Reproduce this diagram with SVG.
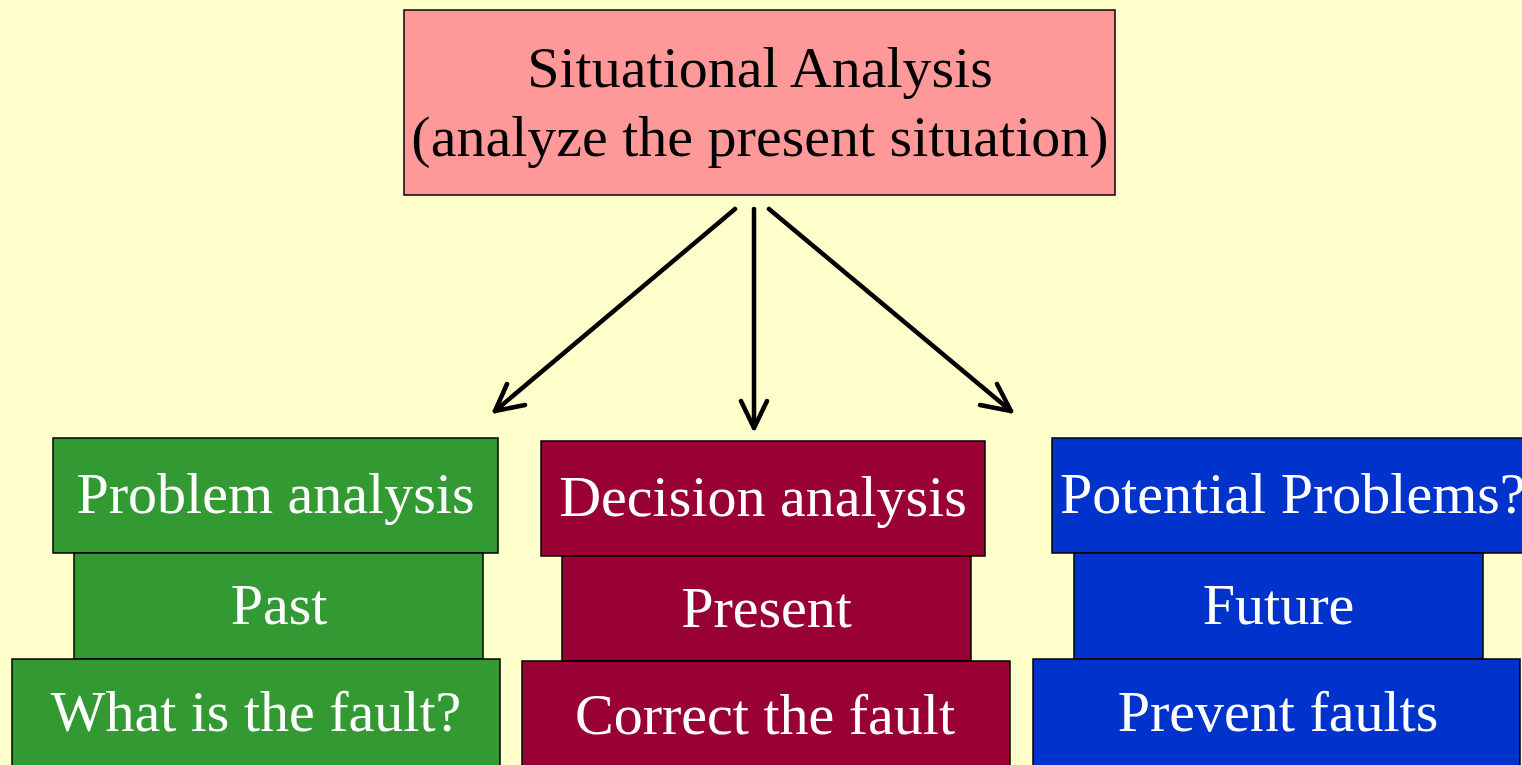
<svg xmlns="http://www.w3.org/2000/svg" width="1522" height="765" viewBox="0 0 1522 765">
<defs>
<style>
.t{font-family:"Liberation Serif","Times New Roman",serif;font-size:58px;text-anchor:middle}
.w{fill:#FFFFFF}
.k{fill:#000000}
.box{stroke:#000000;stroke-width:1.5}
.g{fill:#339933}
.r{fill:#990033}
.b{fill:#0033CC}
.arr{fill:none;stroke:#000000;stroke-width:4.5;stroke-linecap:round;stroke-linejoin:round}
</style>
</defs>
<rect x="0" y="0" width="1522" height="765" fill="#FFFFCC"/>
<g id="situational">
<rect class="box" x="404" y="10" width="711" height="185" fill="#FF9999"/>
<text class="t k" x="760" y="87">Situational Analysis</text>
<text class="t k" x="760" y="156">(analyze the present situation)</text>
</g>
<g id="connectors">
<line class="arr" x1="735" y1="209" x2="495" y2="411"/>
<polyline class="arr" points="507,384 495,411 525,405"/>
<line class="arr" x1="754" y1="209" x2="754" y2="428"/>
<polyline class="arr" points="741,401 754,428 767,401"/>
<line class="arr" x1="769" y1="209" x2="1011" y2="411"/>
<polyline class="arr" points="997,384 1011,411 980,405"/>
</g>
<g id="problem-analysis">
<rect class="box g" x="53" y="438" width="445" height="115"/>
<text class="t w" x="275.5" y="513">Problem analysis</text>
</g>
<g id="past">
<rect class="box g" x="74" y="553" width="409" height="106"/>
<text class="t w" x="279" y="624">Past</text>
</g>
<g id="what-fault">
<rect class="box g" x="12" y="659" width="488" height="110"/>
<text class="t w" x="256" y="731">What is the fault?</text>
</g>
<g id="decision-analysis">
<rect class="box r" x="541" y="441" width="444" height="115"/>
<text class="t w" x="763" y="516">Decision analysis</text>
</g>
<g id="present">
<rect class="box r" x="562" y="556" width="409" height="105"/>
<text class="t w" x="766.5" y="627">Present</text>
</g>
<g id="correct-fault">
<rect class="box r" x="522" y="661" width="488" height="108"/>
<text class="t w" x="765" y="734">Correct the fault</text>
</g>
<g id="potential-problems">
<rect class="box b" x="1052" y="438" width="480" height="115"/>
<text class="t w" x="1060" y="513" style="text-anchor:start">Potential Problems?</text>
</g>
<g id="future">
<rect class="box b" x="1074" y="553" width="409" height="106"/>
<text class="t w" x="1278.5" y="624">Future</text>
</g>
<g id="prevent-faults">
<rect class="box b" x="1033" y="659" width="487" height="110"/>
<text class="t w" x="1278" y="731">Prevent faults</text>
</g>
</svg>
